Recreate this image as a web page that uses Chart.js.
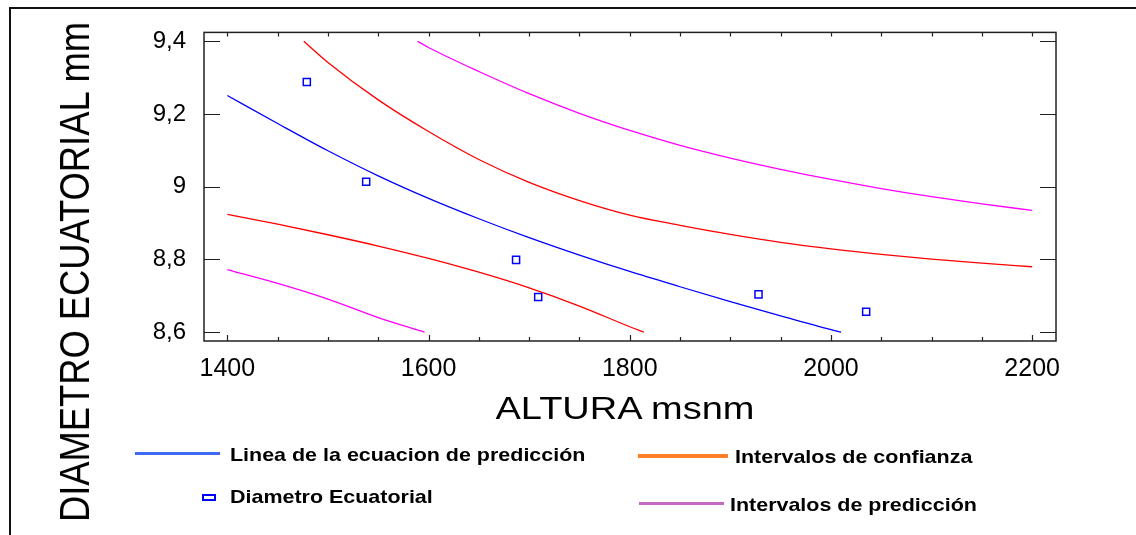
<!DOCTYPE html>
<html lang="es">
<head>
<meta charset="utf-8">
<title>Diametro ecuatorial vs altura</title>
<script src="https://cdn.jsdelivr.net/npm/chart.js@4.4.1/dist/chart.umd.min.js"></script>
<style>
  html, body { margin: 0; padding: 0; background: #fff; }
  body { width: 1136px; height: 535px; position: relative; overflow: hidden; font-family: Arial, "Liberation Sans", sans-serif; }
  #frame { position: absolute; left: 9px; top: 7px; width: 1200px; height: 600px; border-top: 2px solid #111; border-left: 2px solid #111; }
  #grafica { position: absolute; left: 0; top: 0; }
  .title { position: absolute; color: #000; white-space: nowrap; line-height: 1; }
  #ytitle { left: 75px; top: 272px; font-size: 42px; transform: translate(-50%, -50%) rotate(-90deg) scaleX(0.865); }
  #xtitle { left: 625px; top: 407.5px; font-size: 31px; transform: translate(-50%, -50%) scaleX(1.226); }
  .leg { position: absolute; color: #000; font-weight: bold; font-size: 18.5px; line-height: 1; white-space: nowrap;
         transform-origin: left center; transform: translateY(-50%) scaleX(1.16); }
  .sw { position: absolute; height: 3.5px; }
  #swCuadro { position: absolute; left: 202px; top: 493.5px; width: 14px; height: 7px; border: 2px solid #0000ff; box-sizing: border-box; }
</style>
</head>
<body>
<div id="frame"></div>
<canvas id="grafica" width="1136" height="535"></canvas>

<div class="title" id="ytitle">DIAMETRO ECUATORIAL mm</div>
<div class="title" id="xtitle">ALTURA msnm</div>

<!-- leyenda -->
<div class="sw" style="left:135px; top:451.5px; width:85px; background:#3d6af0;"></div>
<div class="leg" style="left:230px; top:455px;">Linea de la ecuacion de predicción</div>
<div id="swCuadro"></div>
<div class="leg" style="left:230px; top:497px;">Diametro Ecuatorial</div>
<div class="sw" style="left:638px; top:454px; width:90px; background:#ff7f27;"></div>
<div class="leg" style="left:735px; top:457px;">Intervalos de confianza</div>
<div class="sw" style="left:639px; top:501.5px; width:85px; background:#c46ac4;"></div>
<div class="leg" style="left:730px; top:505px;">Intervalos de predicción</div>

<script>
// ---- datos ----
const xMajor = [1400, 1600, 1800, 2000, 2200];
const xMinor = [1450, 1500, 1550, 1650, 1700, 1750, 1850, 1900, 1950, 2050, 2100, 2150];
const yMajor = [8.6, 8.8, 9.0, 9.2, 9.4];

// observaciones
const alturaObs = [1479, 1538, 1687, 1709, 1928, 2035];
const diametroObs = [9.288, 9.014, 8.799, 8.697, 8.704, 8.656];

// linea de la ecuacion de prediccion
const ajusteX = [1400, 1450, 1500, 1550, 1600, 1650, 1700, 1750, 1800, 1850, 1900, 1950, 2000, 2010];
const ajusteY = [9.251, 9.174, 9.099, 9.030, 8.968, 8.912, 8.860, 8.812, 8.767, 8.725, 8.684, 8.645, 8.607, 8.600];

// intervalos de confianza
const confSupX = [1476, 1500, 1550, 1600, 1650, 1700, 1750, 1800, 1850, 1900, 1950, 2000, 2050, 2100, 2150, 2200];
const confSupY = [9.400, 9.342, 9.239, 9.152, 9.075, 9.012, 8.962, 8.922, 8.894, 8.869, 8.847, 8.829, 8.814, 8.801, 8.790, 8.780];
const confInfX = [1400, 1450, 1500, 1550, 1600, 1650, 1700, 1750, 1800, 1814];
const confInfY = [8.924, 8.897, 8.868, 8.837, 8.803, 8.765, 8.722, 8.672, 8.615, 8.600];

// intervalos de prediccion
const predSupX = [1589, 1600, 1650, 1700, 1750, 1800, 1850, 1900, 1950, 2000, 2050, 2100, 2150, 2200];
const predSupY = [9.400, 9.383, 9.317, 9.256, 9.202, 9.155, 9.114, 9.079, 9.048, 9.020, 8.995, 8.973, 8.953, 8.935];
const predInfX = [1400, 1450, 1500, 1550, 1596];
const predInfY = [8.772, 8.734, 8.691, 8.640, 8.600];

const pts = (xs, ys) => xs.map((x, i) => ({ x: x, y: ys[i] }));

function linea(xs, ys, color) {
    return {
        data: pts(xs, ys),
        showLine: true,
        borderColor: color,
        borderWidth: 1.3,
        pointRadius: 0,
        cubicInterpolationMode: "monotone",
        fill: false
    };
}

// marco del area y marcas de los ejes (hacia adentro)
const marcoPlugin = {
    id: "marco",
    afterDraw(chart) {
        const { ctx, chartArea: a, scales: { x, y } } = chart;
        ctx.save();
        ctx.strokeStyle = "#222";
        ctx.lineWidth = 1.5;
        ctx.strokeRect(a.left, a.top, a.right - a.left, a.bottom - a.top);

        ctx.lineWidth = 1.2;
        ctx.beginPath();
        xMajor.concat(xMinor).forEach(v => {
            const px = Math.round(x.getPixelForValue(v)) + 0.5;
            const big = xMajor.includes(v);
            ctx.moveTo(px, a.bottom);
            ctx.lineTo(px, a.bottom - (big ? 6 : 4));
            ctx.moveTo(px, a.top);
            ctx.lineTo(px, a.top + 4);
        });
        yMajor.forEach(v => {
            const py = Math.round(y.getPixelForValue(v)) + 0.5;
            ctx.moveTo(a.left, py);
            ctx.lineTo(a.left + 16, py);
            ctx.moveTo(a.right, py);
            ctx.lineTo(a.right - 16, py);
        });
        ctx.stroke();
        ctx.restore();
    }
};

new Chart(document.getElementById("grafica"), {
    type: "scatter",
    data: {
        datasets: [
            linea(predSupX, predSupY, "#ff00ff"),
            linea(predInfX, predInfY, "#ff00ff"),
            linea(confSupX, confSupY, "#ff0000"),
            linea(confInfX, confInfY, "#ff0000"),
            linea(ajusteX, ajusteY, "#0000ff"),
            {
                data: pts(alturaObs, diametroObs),
                showLine: false,
                pointStyle: "rect",
                pointRadius: 5,
                pointBorderWidth: 1.5,
                pointBorderColor: "#0000ff",
                pointBackgroundColor: "rgba(0,0,0,0)"
            }
        ]
    },
    options: {
        responsive: false,
        animation: false,
        events: [],
        layout: { padding: { left: 0, top: 30, right: 80, bottom: 134 } },
        plugins: { legend: { display: false }, tooltip: { enabled: false } },
        scales: {
            x: {
                type: "linear",
                min: 1376.8,
                max: 2223.7,
                grid: { display: false, drawTicks: false },
                border: { display: false },
                afterFit: s => { s.height = 60; },
                afterBuildTicks: s => { s.ticks = xMajor.map(v => ({ value: v })); },
                ticks: {
                    padding: 13,
                    color: "#000",
                    maxRotation: 0,
                    autoSkip: false,
                    font: { family: "Arial, 'Liberation Sans'", size: 25 },
                    callback: v => String(v)
                }
            },
            y: {
                type: "linear",
                min: 8.5758,
                max: 9.4245,
                grid: { display: false, drawTicks: false },
                border: { display: false },
                afterFit: s => { s.width = 204; },
                afterBuildTicks: s => { s.ticks = yMajor.map(v => ({ value: v })); },
                ticks: {
                    padding: 18,
                    color: "#000",
                    autoSkip: false,
                    font: { family: "Arial, 'Liberation Sans'", size: 24 },
                    callback: v => String(Math.round(v * 10) / 10).replace(".", ",")
                }
            }
        }
    },
    plugins: [marcoPlugin]
});
</script>
</body>
</html>
